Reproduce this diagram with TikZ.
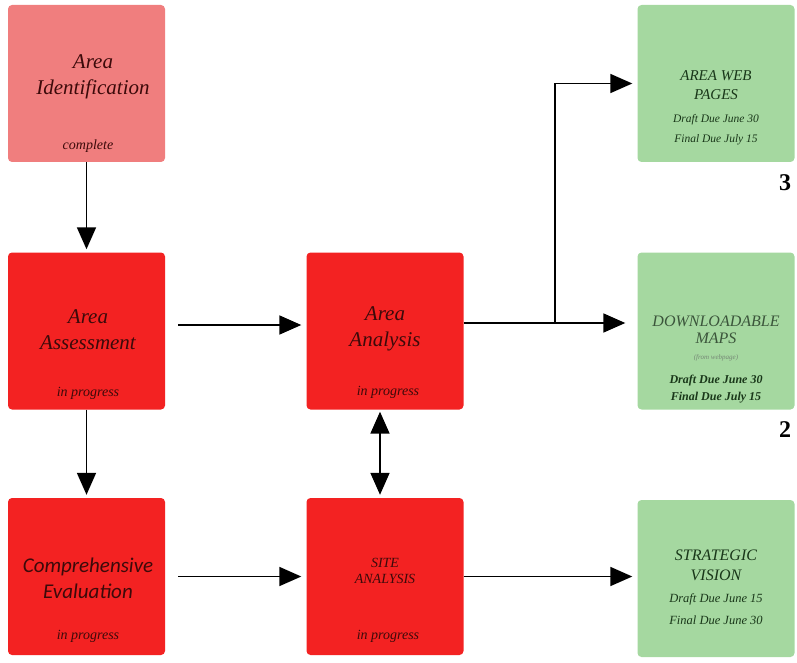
\documentclass[tikz,border=0pt]{standalone}
\usepackage{fontspec}
\setmainfont{Liberation Serif}
\newfontfamily\evalfont{Carlito}
\usetikzlibrary{arrows.meta}
\definecolor{lightred}{RGB}{240,126,126}
\definecolor{boxred}{RGB}{243,34,34}
\definecolor{boxgreen}{RGB}{165,216,160}
\definecolor{redtext}{RGB}{60,10,10}
\definecolor{greentext}{RGB}{25,55,25}
\begin{document}
\begin{tikzpicture}[x=1pt,y=-1pt,
    box/.style={minimum width=157pt,minimum height=157pt,rounded corners=4pt,inner sep=0pt},
    title/.style={font=\itshape\fontsize{21}{26}\selectfont,text=redtext,align=center},
    status/.style={font=\itshape\fontsize{14}{16}\selectfont,text=redtext},
    gtitle/.style={font=\itshape\fontsize{15}{19}\selectfont,text=greentext,align=center},
    due/.style={font=\itshape\fontsize{11.5}{20}\selectfont,text=greentext,align=center},
    line/.style={line width=1.8pt},
    link/.style={line,-{Triangle[length=22pt,width=19pt]}}]
  \useasboundingbox (0,0) rectangle (797,663);
  \node[box,fill=lightred] (ident) at (86.5,83.5) {};
  \node[box,fill=boxred] (assess) at (86.5,331) {};
  \node[box,fill=boxred] (comp) at (86.5,576.5) {};
  \node[box,fill=boxred] (analysis) at (385,331) {};
  \node[box,fill=boxred] (site) at (385,576.5) {};
  \foreach \n\y in {web/83.5,maps/331,vision/578.5} {
    \node[box,fill=boxgreen] (\n) at (716,\y) {};
  }
  \node[title] (identtxt) at (93,77) {Area\\Identification};
  \node[status] (identst) at (88,146) {complete};
  \node[title] (assesstxt) at (88,330) {Area\\Assessment};
  \node[status] (assessst) at (88,393) {in progress};
  \node[title,font=\evalfont\itshape\fontsize{21}{26}\selectfont] (comptxt) at (88,578) {Comprehensive\\Evaluation};
  \node[status] (compst) at (88,636) {in progress};
  \node[title] (analysistxt) at (385,329) {Area\\Analysis};
  \node[status] (analysisst) at (388,392) {in progress};
  \node[title,font=\itshape\fontsize{14}{16}\selectfont] (sitetxt) at (385,571) {SITE\\ANALYSIS};
  \node[status] (sitest) at (388,636) {in progress};
  \node[gtitle] (webtxt) at (716,85) {AREA WEB\\PAGES};
  \node[due] (webdue) at (716,130) {Draft Due June 30\\Final Due July 15};
  \node[gtitle,font=\itshape\fontsize{16}{17}\selectfont,text=greentext!85] (mapstxt) at (716,330) {DOWNLOADABLE\\MAPS};
  \node[font=\itshape\fontsize{7}{8}\selectfont,text=greentext!60] (mapsfrom) at (716,358) {(from webpage)};
  \node[due,font=\bfseries\itshape\fontsize{12}{17}\selectfont] (mapsdue) at (716,389.5) {Draft Due June 30\\Final Due July 15};
  \node[gtitle,font=\itshape\fontsize{16}{20}\selectfont] (visiontxt) at (716,565) {STRATEGIC\\VISION};
  \node[due,font=\itshape\fontsize{12.5}{22}\selectfont] (visiondue) at (716,609) {Draft Due June 15\\Final Due June 30};
  \node[font=\bfseries\fontsize{24}{24}\selectfont] (num3) at (785,183) {3};
  \node[font=\bfseries\fontsize{24}{24}\selectfont] (num2) at (785,430) {2};
  \coordinate (branch) at (555,323);
  \draw[link,shorten >=3pt] (ident) -- (assess);
  \draw[link,shorten >=3pt] (assess) -- (comp);
  \draw[link,shorten <=13pt,shorten >=5pt] ([yshift=6pt]assess.east) -- ([yshift=6pt]analysis.west);
  \draw[link,shorten <=13pt,shorten >=5pt] (comp.east) -- (site.west);
  \draw[link,shorten >=5pt] (site.east) -- (site.east -| vision.west);
  \draw[line] ([yshift=8pt]analysis.east) -- (branch);
  \draw[link,shorten >=5pt] (branch) |- (web.west);
  \draw[link,shorten >=12pt] (branch) -- ([yshift=8pt]maps.west);
  \draw[line,{Triangle[length=22pt,width=19pt]}-{Triangle[length=22pt,width=19pt]},shorten <=2pt,shorten >=3pt] ([xshift=-5pt]analysis.south) -- ([xshift=-5pt]site.north);
\end{tikzpicture}
\end{document}
